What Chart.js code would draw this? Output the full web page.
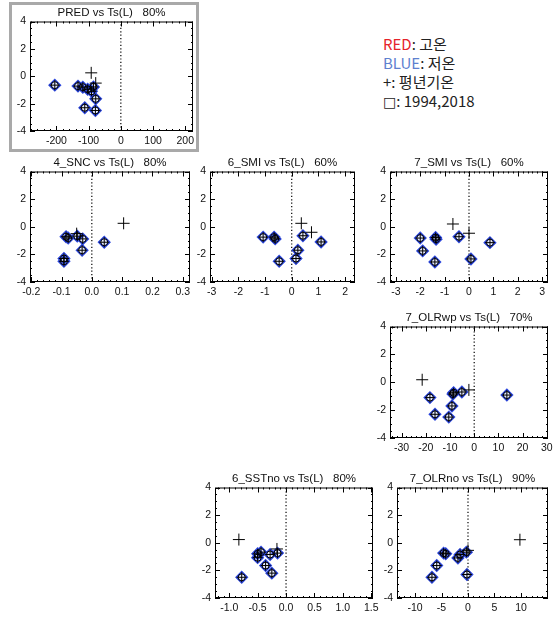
<!DOCTYPE html>
<html>
<head>
<meta charset="utf-8">
<script src="https://cdn.jsdelivr.net/npm/chart.js@4.4.1/dist/chart.umd.min.js"></script>
<style>
body{margin:0;background:#fff;width:554px;height:618px;position:relative;overflow:hidden}
canvas{position:absolute}
#frame{position:absolute;left:9px;top:2px;width:184px;height:144px;border:3px solid #a9a9a9}
#note{position:absolute;left:383px;top:34px;font:15px "Noto Sans CJK KR";line-height:19px;color:#222}
#note .sq{font-family:"DejaVu Sans";font-size:14px}
</style>
</head>
<body>
<div id="frame"></div>
<div id="note"><span style="color:#e5232b">RED</span>: 고온<br><span style="color:#5d80cf">BLUE</span>: 저온<br>+: 평년기온<br><span class="sq">□</span>: 1994,2018</div>
<script>
// y axis (Ts) is shared by all panels
const yTicks = [-4, -2, 0, 2, 4];

// PRED
const predTicks = [-200, -100, 0, 100, 200];
const predNormX = [-92, -78], predNormY = [0.25, -0.5];
const predColdX = [-205, -133, -118, -103, -91, -85, -78, -112, -79];
const predColdY = [-0.65, -0.72, -0.8, -0.95, -1.1, -0.78, -1.65, -2.3, -2.5];

// 4_SNC
const sncTicks = [-0.2, -0.1, 0, 0.1, 0.2, 0.3];
const sncNormX = [-0.05, 0.105], sncNormY = [-0.5, 0.25];
const sncColdX = [-0.085, -0.078, -0.048, -0.03, -0.032, -0.092, -0.092, 0.041];
const sncColdY = [-0.72, -0.82, -0.68, -0.88, -1.7, -2.3, -2.5, -1.12];

// 6_SMI
const smi6Ticks = [-3, -2, -1, 0, 1, 2];
const smi6NormX = [0.36, 0.74], smi6NormY = [0.25, -0.4];
const smi6ColdX = [-1.07, -0.66, -0.62, -0.47, 0.23, 0.16, 0.42, 1.1];
const smi6ColdY = [-0.75, -0.75, -0.88, -2.5, -1.7, -2.3, -0.65, -1.1];

// 7_SMI
const smi7Ticks = [-3, -2, -1, 0, 1, 2, 3];
const smi7NormX = [-0.66, 0], smi7NormY = [0.2, -0.47];
const smi7ColdX = [-2.0, -1.37, -1.35, -1.9, -1.4, -0.41, 0.08, 0.86];
const smi7ColdY = [-0.82, -0.78, -0.9, -1.75, -2.55, -0.72, -2.33, -1.15];

// 7_OLRwp
const olrwpTicks = [-30, -20, -10, 0, 10, 20, 30];
const olrwpNormX = [-21.5, -2.2], olrwpNormY = [0.18, -0.55];
const olrwpColdX = [-18.3, -16.2, -10.5, -9.2, -8.8, -8.5, -5.1, 13.5];
const olrwpColdY = [-1.1, -2.3, -2.5, -1.7, -0.85, -0.75, -0.7, -0.92];

// 6_SSTno
const sstTicks = [-1.0, -0.5, 0, 0.5, 1.0, 1.5];
const sstNormX = [-0.83, -0.16], sstNormY = [0.23, -0.45];
const sstColdX = [-0.78, -0.5, -0.44, -0.5, -0.28, -0.36, -0.25, -0.15];
const sstColdY = [-2.5, -0.8, -0.68, -1.08, -0.85, -1.65, -2.2, -0.75];

// 7_OLRno
const olrnoTicks = [-10, -5, 0, 5, 10];
const olrnoNormX = [0, 9.8], olrnoNormY = [-0.55, 0.22];
const olrnoColdX = [-4.6, -4.2, -5.9, -6.8, -1.9, -1.5, -0.3, -0.2];
const olrnoColdY = [-0.75, -0.8, -1.65, -2.5, -1.1, -0.85, -0.68, -2.3];

const panels = [
  {title: 'PRED vs Ts(L)   80%', box: [30, 21, 193, 131], min: -282, max: 224, ticks: predTicks, dec: 0, minor: 20,
   nx: predNormX, ny: predNormY, cx: predColdX, cy: predColdY},
  {title: '4_SNC vs Ts(L)   80%', box: [30, 171, 190, 282], min: -0.204, max: 0.324, ticks: sncTicks, dec: 1, minor: 0.02,
   nx: sncNormX, ny: sncNormY, cx: sncColdX, cy: sncColdY},
  {title: '6_SMI vs Ts(L)   60%', box: [210, 171, 355, 282], min: -3.06, max: 2.37, ticks: smi6Ticks, dec: 0, minor: 0.2,
   nx: smi6NormX, ny: smi6NormY, cx: smi6ColdX, cy: smi6ColdY},
  {title: '7_SMI vs Ts(L)   60%', box: [390, 171, 548, 282], min: -3.24, max: 3.24, ticks: smi7Ticks, dec: 0, minor: 0.2,
   nx: smi7NormX, ny: smi7NormY, cx: smi7ColdX, cy: smi7ColdY},
  {title: '7_OLRwp vs Ts(L)   70%', box: [390, 326, 548, 438], min: -34.8, max: 30.5, ticks: olrwpTicks, dec: 0, minor: 2,
   nx: olrwpNormX, ny: olrwpNormY, cx: olrwpColdX, cy: olrwpColdY},
  {title: '6_SSTno vs Ts(L)   80%', box: [215, 487, 373, 598], min: -1.25, max: 1.53, ticks: sstTicks, dec: 1, minor: 0.1,
   nx: sstNormX, ny: sstNormY, cx: sstColdX, cy: sstColdY},
  {title: '7_OLRno vs Ts(L)   90%', box: [397, 487, 548, 598], min: -13.4, max: 15.1, ticks: olrnoTicks, dec: 0, minor: 1,
   nx: olrnoNormX, ny: olrnoNormY, cx: olrnoColdX, cy: olrnoColdY}
];

const FONT = "'Liberation Sans', Arial, sans-serif";
const padL = 30, padT = 14, padR = 12, padB = 20;

// IDL style box with inward major/minor ticks on all four sides
function frameTicks(p) {
  return {
    id: 'frameTicks',
    afterDraw(chart) {
      const {ctx, chartArea: a, scales: {x, y}} = chart;
      ctx.save();
      ctx.strokeStyle = '#000';
      ctx.lineWidth = 1;
      ctx.strokeRect(a.left + 0.5, a.top + 0.5, a.width - 1, a.height - 1);
      ctx.beginPath();
      const xt = (v, len) => {
        const px = Math.round(x.getPixelForValue(v)) + 0.5;
        ctx.moveTo(px, a.bottom); ctx.lineTo(px, a.bottom - len);
        ctx.moveTo(px, a.top); ctx.lineTo(px, a.top + len);
      };
      const yt = (v, len) => {
        const py = Math.round(y.getPixelForValue(v)) + 0.5;
        ctx.moveTo(a.left, py); ctx.lineTo(a.left + len, py);
        ctx.moveTo(a.right, py); ctx.lineTo(a.right - len, py);
      };
      for (let k = Math.ceil(p.min / p.minor); k * p.minor <= p.max + 1e-9; k++) xt(k * p.minor, 2);
      p.ticks.forEach(v => xt(v, 5));
      for (let k = -8; k <= 8; k++) yt(k * 0.5, 2);
      yTicks.forEach(v => yt(v, 5));
      ctx.stroke();
      ctx.restore();
    }
  };
}

panels.forEach(p => {
  const [l, t, r, b] = p.box;
  const c = document.createElement('canvas');
  c.width = r - l + padL + padR;
  c.height = b - t + padT + padB;
  c.style.left = (l - padL) + 'px';
  c.style.top = (t - padT) + 'px';
  document.body.appendChild(c);

  const cold = p.cx.map((x, i) => ({x: x, y: p.cy[i]}));
  const norm = p.nx.map((x, i) => ({x: x, y: p.ny[i]}));

  new Chart(c, {
    type: 'scatter',
    data: {
      datasets: [
        {data: norm, pointStyle: 'cross', pointRadius: 6, borderColor: '#000', borderWidth: 1, order: 0},
        {data: cold, pointStyle: 'cross', pointRadius: 5, borderColor: '#000', borderWidth: 1, order: 1},
        {data: cold, pointStyle: 'circle', pointRadius: 3.5, borderColor: '#000', backgroundColor: 'rgba(0,0,0,0)', borderWidth: 1, order: 2},
        {data: cold, pointStyle: 'rectRot', pointRadius: 5.5, borderColor: '#2a45dc', backgroundColor: 'rgba(60,90,230,0.12)', borderWidth: 1.7, order: 3},
        {type: 'line', data: [{x: 0, y: -4}, {x: 0, y: 4}], borderColor: '#000', borderWidth: 1.2,
         borderDash: [1.2, 2.2], pointRadius: 0, order: 4}
      ]
    },
    options: {
      responsive: false,
      animation: false,
      devicePixelRatio: 1,
      layout: {padding: {right: padR}},
      plugins: {
        legend: {display: false},
        tooltip: {enabled: false},
        title: {display: true, text: p.title, fullSize: false, color: '#111',
                font: {family: FONT, size: 11.5, weight: 'normal', lineHeight: 1},
                padding: {top: 0, bottom: 3}}
      },
      scales: {
        x: {
          type: 'linear', min: p.min, max: p.max,
          grid: {display: false, drawTicks: false}, border: {display: false},
          afterBuildTicks: s => { s.ticks = p.ticks.map(v => ({value: v})); },
          afterFit: s => { s.height = padB; },
          ticks: {padding: 4, maxRotation: 0, autoSkip: false, color: '#111',
                  font: {family: FONT, size: 10.5}, callback: v => v.toFixed(p.dec)}
        },
        y: {
          type: 'linear', min: -4, max: 4,
          grid: {display: false, drawTicks: false}, border: {display: false},
          afterBuildTicks: s => { s.ticks = yTicks.map(v => ({value: v})); },
          afterFit: s => { s.width = padL; },
          ticks: {padding: 4, color: '#111', font: {family: FONT, size: 10.5}}
        }
      }
    },
    plugins: [frameTicks(p)]
  });
});
</script>
</body>
</html>
